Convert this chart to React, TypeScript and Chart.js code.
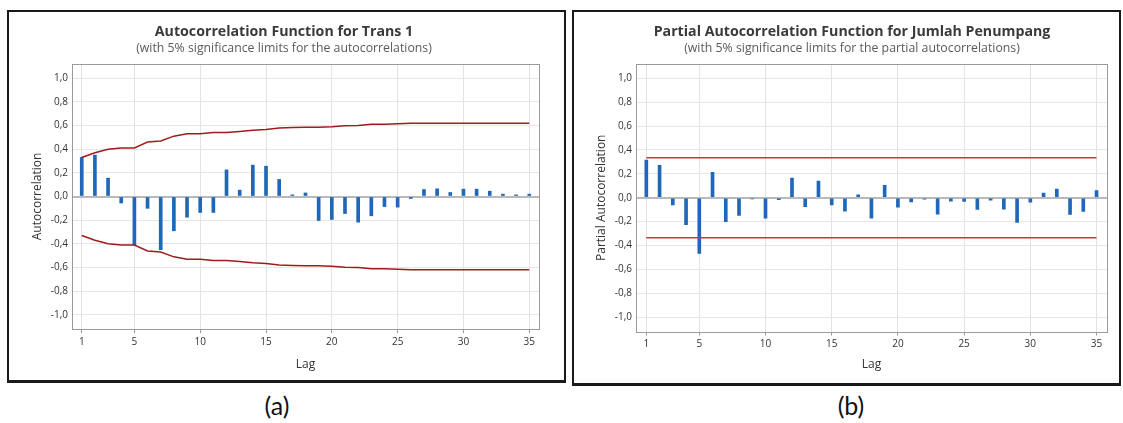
import React, { useEffect, useRef } from "react";
import { Chart, registerables } from "chart.js";

Chart.register(...registerables);

const lags = Array.from({ length: 35 }, (_, i) => i + 1);
const lagTicks = [1, 5, 10, 15, 20, 25, 30, 35];
const yTicks = [-1.0, -0.8, -0.6, -0.4, -0.2, 0, 0.2, 0.4, 0.6, 0.8, 1.0];

const acfValues = [
  0.33, 0.35, 0.155, -0.055, -0.41, -0.1, -0.45, -0.29, -0.175, -0.135,
  -0.135, 0.225, 0.054, 0.265, 0.256, 0.144, 0.014, 0.03, -0.203, -0.194,
  -0.144, -0.217, -0.163, -0.085, -0.09, -0.017, 0.059, 0.065, 0.034, 0.062,
  0.062, 0.045, 0.02, 0.014, 0.02,
];
const acfLimit = [
  0.33, 0.37, 0.4, 0.41, 0.41, 0.46, 0.47, 0.51, 0.53, 0.53, 0.54, 0.54,
  0.55, 0.56, 0.567, 0.578, 0.583, 0.586, 0.586, 0.59, 0.597, 0.6, 0.61,
  0.61, 0.614, 0.62, 0.62, 0.62, 0.62, 0.62, 0.62, 0.62, 0.62, 0.62, 0.62,
];

const pacfValues = [
  0.316, 0.271, -0.059, -0.226, -0.466, 0.212, -0.201, -0.148, -0.01, -0.17,
  -0.017, 0.165, -0.075, 0.14, -0.059, -0.112, 0.025, -0.17, 0.103, -0.078,
  -0.034, -0.011, -0.137, -0.028, -0.031, -0.098, -0.02, -0.095, -0.207,
  -0.036, 0.039, 0.073, -0.14, -0.115, 0.061,
];
const pacfLimit = 0.335;

const FONT = '"Open Sans", "Noto Sans", sans-serif';

const frameBorder = {
  id: "frameBorder",
  afterDatasetsDraw(chart: any) {
    const { ctx, chartArea } = chart;
    ctx.save();
    ctx.strokeStyle = "#9a9a9a";
    ctx.lineWidth = 1;
    ctx.strokeRect(
      Math.round(chartArea.left) + 0.5,
      Math.round(chartArea.top) + 0.5,
      Math.round(chartArea.right - chartArea.left),
      Math.round(chartArea.bottom - chartArea.top)
    );
    ctx.restore();
  },
};

type Cfg = {
  title: string;
  subtitle: string;
  yTitle: string;
  values: number[];
  upper: number[];
  lower: number[];
  limitColor: string;
  padLeft: number;
  yWidth: number;
  yTitlePad: number;
  xHeight: number;
  xTitlePad: number;
  padRight: number;
  xMin: number;
  xMax: number;
};

function makeChart(canvas: HTMLCanvasElement, c: Cfg) {
  return new Chart(canvas, {
    type: "bar",
    data: {
      datasets: [
        {
          type: "line",
          data: lags.map((l, i) => ({ x: l, y: c.upper[i] })),
          borderColor: c.limitColor,
          borderWidth: 1.5,
          pointRadius: 0,
          fill: false,
          order: 0,
        } as any,
        {
          type: "line",
          data: lags.map((l, i) => ({ x: l, y: c.lower[i] })),
          borderColor: c.limitColor,
          borderWidth: 1.5,
          pointRadius: 0,
          fill: false,
          order: 0,
        } as any,
        {
          type: "bar",
          data: lags.map((l, i) => ({ x: l, y: c.values[i] })),
          backgroundColor: "#1f67b8",
          barThickness: 3,
          order: 1,
        } as any,
      ],
    },
    options: {
      animation: false,
      responsive: false,
      maintainAspectRatio: false,
      layout: { padding: { left: c.padLeft, top: 0, right: c.padRight, bottom: 0 } },
      plugins: {
        legend: { display: false },
        tooltip: { enabled: false },
        title: {
          display: true,
          text: c.title,
          color: "#3a3a3a",
          font: { family: FONT, size: 14.2, weight: "bold" },
          padding: { top: 11, bottom: 0 },
        },
        subtitle: {
          display: true,
          text: c.subtitle,
          color: "#5a5a5a",
          font: { family: FONT, size: 12.3 },
          padding: { top: 0.6, bottom: 8.6 },
        },
      },
      scales: {
        x: {
          type: "linear",
          min: c.xMin,
          max: c.xMax,
          offset: false,
          afterBuildTicks: (scale: any) => {
            scale.ticks = lagTicks.map((v) => ({ value: v }));
          },
          afterFit: (scale: any) => {
            scale.height = c.xHeight;
          },
          grid: {
            offset: false,
            color: "#e3e3e3",
            lineWidth: 1,
            drawTicks: true,
            tickLength: 4,
            tickColor: "#9a9a9a",
          },
          border: { display: false },
          ticks: {
            color: "#333",
            font: { family: FONT, size: 10 },
            padding: 3,
            maxRotation: 0,
            autoSkip: false,
          },
          title: {
            display: true,
            text: "Lag",
            color: "#333",
            font: { family: FONT, size: 12 },
            padding: { top: 0, bottom: c.xTitlePad },
          },
        },
        y: {
          type: "linear",
          min: -1.12,
          max: 1.12,
          afterBuildTicks: (scale: any) => {
            scale.ticks = yTicks.map((v) => ({ value: v }));
          },
          afterFit: (scale: any) => {
            scale.width = c.yWidth;
          },
          grid: {
            color: (ctx: any) =>
              ctx.tick && Math.abs(ctx.tick.value) < 1e-9 ? "#b9b9b9" : "#e6e6e6",
            lineWidth: (ctx: any) =>
              ctx.tick && Math.abs(ctx.tick.value) < 1e-9 ? 2 : 1,
            drawTicks: false,
          },
          border: { display: false },
          ticks: {
            color: "#333",
            font: { family: FONT, size: 10 },
            padding: 4,
            callback: (v: any) => Number(v).toFixed(1).replace(".", ","),
          },
          title: {
            display: true,
            text: c.yTitle,
            color: "#333",
            font: { family: FONT, size: 12 },
            padding: { top: c.yTitlePad, bottom: 0 },
          },
        },
      },
    } as any,
    plugins: [frameBorder],
  });
}

function Panel(props: { cfg: Cfg; width: number; height: number; style: React.CSSProperties }) {
  const ref = useRef<HTMLCanvasElement>(null);
  useEffect(() => {
    if (!ref.current) return;
    const ch = makeChart(ref.current, props.cfg);
    return () => ch.destroy();
  }, []);
  return (
    <canvas
      ref={ref}
      width={props.width}
      height={props.height}
      style={{ position: "absolute", width: props.width, height: props.height, ...props.style }}
    />
  );
}

const captionStyle: React.CSSProperties = {
  position: "absolute",
  width: 100,
  top: 390,
  textAlign: "center",
  fontFamily: 'Lato, "Open Sans", sans-serif',
  fontSize: 25,
  lineHeight: "30px",
  color: "#111",
};

export default function App() {
  const leftCfg: Cfg = {
    title: "Autocorrelation Function for Trans 1",
    subtitle: "(with 5% significance limits for the autocorrelations)",
    yTitle: "Autocorrelation",
    values: acfValues,
    upper: acfLimit,
    lower: acfLimit.map((v) => -v),
    limitColor: "#a01c1c",
    padLeft: 20,
    yWidth: 43,
    yTitlePad: 1.8,
    xHeight: 50,
    xTitlePad: 6.8,
    padRight: 24,
    xMin: 0.26,
    xMax: 35.74,
  };
  const rightCfg: Cfg = {
    title: "Partial Autocorrelation Function for Jumlah Penumpang",
    subtitle: "(with 5% significance limits for the partial autocorrelations)",
    yTitle: "Partial Autocorrelation",
    values: pacfValues,
    upper: lags.map(() => pacfLimit),
    lower: lags.map(() => -pacfLimit),
    limitColor: "#c83a3a",
    padLeft: 17,
    yWidth: 39,
    yTitlePad: -2.2,
    xHeight: 50.5,
    xTitlePad: 9.8,
    padRight: 15,
    xMin: 0.22,
    xMax: 35.79,
  };
  return (
    <div
      style={{
        position: "absolute",
        left: 0,
        top: 0,
        width: 1123,
        height: 423,
        overflow: "hidden",
        background: "#fff",
      }}
    >
      <div
        style={{
          position: "absolute",
          left: 7,
          top: 10,
          width: 555,
          height: 368,
          border: "2px solid #1a1a1a",
          borderBottomWidth: 3,
        }}
      />
      <div
        style={{
          position: "absolute",
          left: 572,
          top: 10,
          width: 545,
          height: 371,
          border: "2px solid #1a1a1a",
          borderBottomWidth: 3,
        }}
      />
      <Panel cfg={leftCfg} width={554} height={367} style={{ left: 9, top: 12 }} />
      <Panel cfg={rightCfg} width={542} height={370} style={{ left: 580, top: 12 }} />
      <div style={{ ...captionStyle, left: 227 }}>(a)</div>
      <div style={{ ...captionStyle, left: 801 }}>(b)</div>
    </div>
  );
}
